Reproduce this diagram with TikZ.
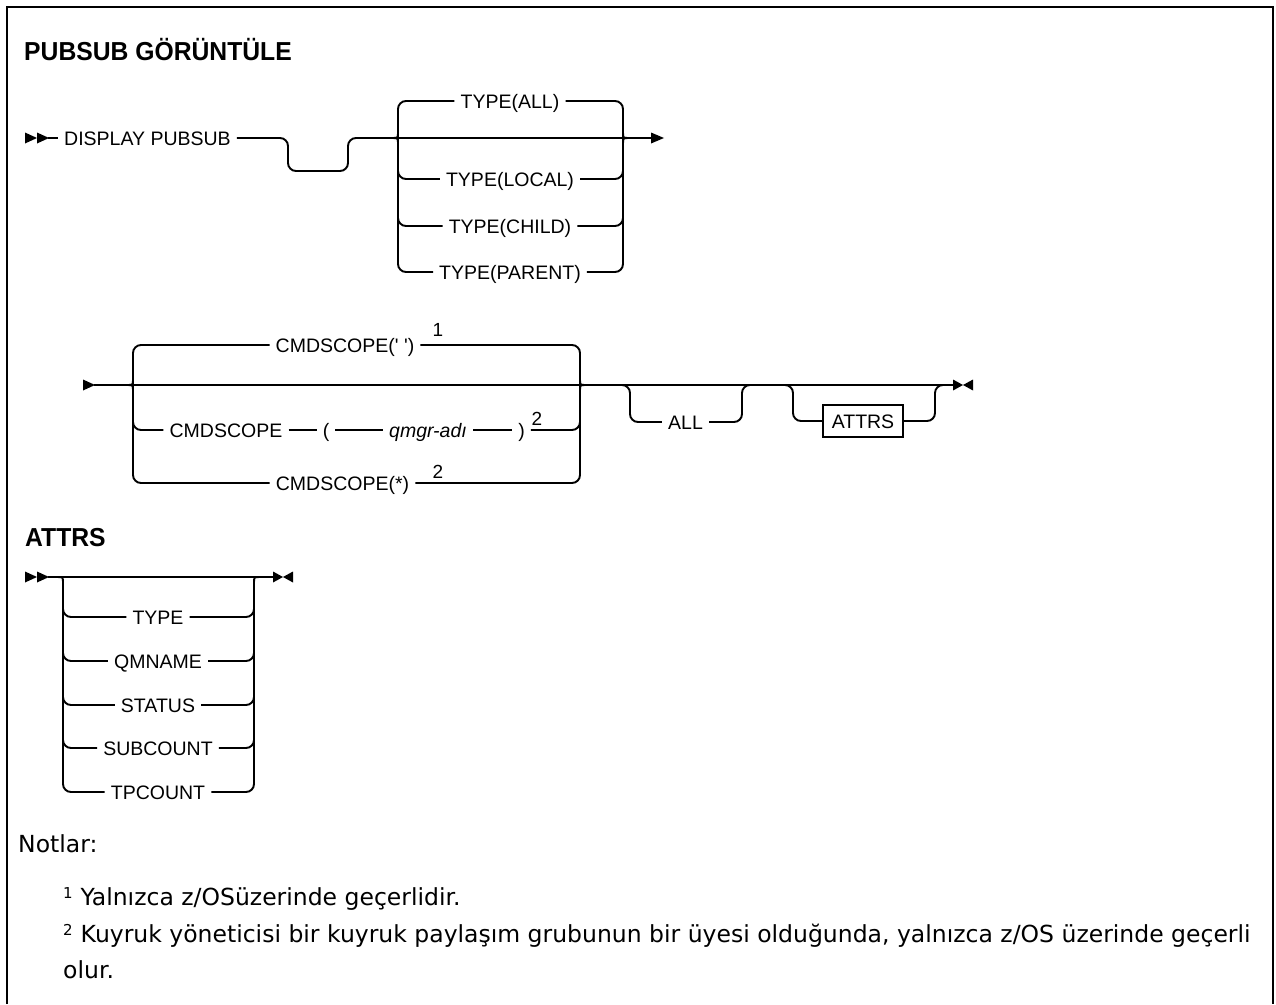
\documentclass[tikz,border=0pt]{standalone}
\usepackage{fontspec}
\usepackage{graphicx}
\setmainfont{Liberation Sans}
\newfontfamily\notefam{DejaVu Sans}
\newcommand\lblf{\fontsize{19.5}{23}\selectfont}
\newcommand\supf{\fontsize{19}{22}\selectfont}
\newcommand\headf{\fontsize{26}{30}\selectfont\bfseries}
\newcommand\notef{\notefam\fontsize{23.5}{30}\selectfont}
\newcommand\notesupf{\notefam\fontsize{15}{18}\selectfont}
\begin{document}
\begin{tikzpicture}[x=1pt,y=-1pt,
  track/.style={line width=1.9pt},
  rc/.style={track, rounded corners=8pt},
  lbl/.style={font=\lblf, inner xsep=6pt, inner ysep=0pt, text height=14pt, text depth=0pt, anchor=center},
  boxlbl/.style={lbl, draw, line width=1.9pt, inner xsep=9pt, inner ysep=9pt},
  supn/.style={font=\supf, inner sep=0pt, anchor=base},
  head/.style={font=\headf, inner sep=0pt, anchor=base west},
  note/.style={font=\notef, inner sep=0pt, anchor=base west},
  tipfill/.style={fill=black}
]
\useasboundingbox (0,0) rectangle (1276,1004);
\fill[white] (0,0) rectangle (1276,1004);
% frame
\draw[line width=2.5pt] (7,1004) -- (7,7) -- (1273,7) -- (1273,1004);

% headings
\node[head] (title) at (24,60) {\scalebox{0.95}[1]{PUBSUB GÖRÜNTÜLE}};
\node[head] (hattrs) at (25,546) {\scalebox{0.95}[1]{ATTRS}};

% ---------------- Row 1 ----------------
\fill[tipfill] (25,132.5) -- (37,138) -- (25,143.5) -- cycle;
\fill[tipfill] (37,132.5) -- (49,138) -- (37,143.5) -- cycle;
\coordinate (st1) at (48,138);
\node[lbl] (disp) at (147.5,138) {DISPLAY PUBSUB};
\draw[track] (st1) -- (disp.west);
\coordinate (tyL) at (392,138);
\coordinate (tyR) at (629,138);
\draw[rc] (disp.east) -- (288,138) -- (288,171) -- (348,171) -- (348,138) -- (tyL);

\node[lbl] (tall) at (510,101) {TYPE(ALL)};
\node[lbl] (tloc) at (510,179) {TYPE(LOCAL)};
\node[lbl] (tchi) at (510,226) {TYPE(CHILD)};
\node[lbl] (tpar) at (510,272) {TYPE(PARENT)};
\draw[track] (tyL) -- (tyR);
\draw[track] (tyL) .. controls (398,138) .. (398,132);
\draw[track] (tyL) .. controls (398,138) .. (398,144);
\draw[track] (623,132) .. controls (623,138) .. (tyR);
\draw[track] (623,144) .. controls (623,138) .. (tyR);
\draw[rc] (tall.west) -- (398,101) -- (398,272) -- (tpar.west);
\draw[rc] (tall.east) -- (623,101) -- (623,272) -- (tpar.east);
\draw[rc] (398,160) -- (398,179) -- (tloc.west);
\draw[rc] (398,208) -- (398,226) -- (tchi.west);
\draw[rc] (tloc.east) -- (623,179) -- (623,160);
\draw[rc] (tchi.east) -- (623,226) -- (623,208);
\coordinate (arr1) at (652,138);
\draw[track] (tyR) -- (arr1);
\fill[tipfill] (651,132.5) -- (664,138) -- (651,143.5) -- cycle;

% ---------------- Row 2 ----------------
\fill[tipfill] (83,379.5) -- (95,385) -- (83,390.5) -- cycle;
\coordinate (st2) at (94,385);
\coordinate (cmL) at (127,385);
\coordinate (cmR) at (586,385);
\draw[track] (st2) -- (cmL) -- (cmR);
\draw[track] (cmL) .. controls (133,385) .. (133,379);
\draw[track] (cmL) .. controls (133,385) .. (133,391);
\draw[track] (580,379) .. controls (580,385) .. (cmR);
\draw[track] (580,391) .. controls (580,385) .. (cmR);

\node[lbl] (c1) at (345,345) {CMDSCOPE(\textquotesingle\ \textquotesingle)};
\node[supn] (c1s) at (438,336) {1};
\node[lbl] (c2a) at (226,430) {CMDSCOPE};
\node[lbl] (c2l) at (326,430) {(};
\node[lbl, font=\lblf\itshape] (c2q) at (428,430) {qmgr-adı};
\node[lbl] (c2r) at (521.5,430) {)};
\node[supn] (c2s) at (537,425) {2};
\node[lbl] (c3) at (342.5,483) {CMDSCOPE(*)};
\node[supn] (c3s) at (438,478) {2};

\draw[rc] (c1.west) -- (133,345) -- (133,483) -- (c3.west);
\draw[rc] (c1.east) -- (580,345) -- (580,483) -- (c3.east);
\draw[rc] (133,412) -- (133,430) -- (c2a.west);
\draw[track] (c2a.east) -- (c2l.west);
\draw[track] (c2l.east) -- (c2q.west);
\draw[track] (c2q.east) -- (c2r.west);
\draw[rc] (c2r.east) -- (580,430) -- (580,412);

\coordinate (end2) at (953,385);
\draw[track] (cmR) -- (end2);
\node[lbl] (all) at (685.5,422) {ALL};
\draw[rc] (622,385) -- (630,385) -- (630,422) -- (all.west);
\draw[rc] (all.east) -- (742,422) -- (742,385) -- (752,385);
\node[boxlbl] (attrs) at (863,421) {ATTRS};
\draw[rc] (783,385) -- (793,385) -- (793,421) -- (attrs.west);
\draw[rc] (attrs.east) -- (935,421) -- (935,385) -- (945,385);
\fill[tipfill] (953,379.5) -- (963,385) -- (953,390.5) -- cycle;
\fill[tipfill] (973,379.5) -- (963,385) -- (973,390.5) -- cycle;

% ---------------- ATTRS fragment ----------------
\fill[tipfill] (25,571.5) -- (37,577) -- (25,582.5) -- cycle;
\fill[tipfill] (37,571.5) -- (49,577) -- (37,582.5) -- cycle;
\coordinate (st3) at (48,577);
\coordinate (aL) at (57,577);
\coordinate (aR) at (260,577);
\coordinate (end3) at (273,577);
\draw[track] (st3) -- (end3);
\draw[track] (aL) .. controls (63,577) .. (63,583);
\draw[track] (254,583) .. controls (254,577) .. (aR);

\node[lbl] (a1) at (158,617) {TYPE};
\node[lbl] (a2) at (158,661) {QMNAME};
\node[lbl] (a3) at (158,705) {STATUS};
\node[lbl] (a4) at (158,748) {SUBCOUNT};
\node[lbl] (a5) at (158,792) {TPCOUNT};
\draw[rc] (63,583) -- (63,792) -- (a5.west);
\draw[rc] (254,583) -- (254,792) -- (a5.east);
\foreach \n/\yy in {a1/617,a2/661,a3/705,a4/748}{
  \draw[rc] (63,\yy-18) -- (63,\yy) -- (\n.west);
  \draw[rc] (\n.east) -- (254,\yy) -- (254,\yy-18);
}
\fill[tipfill] (273,571.5) -- (283,577) -- (273,582.5) -- cycle;
\fill[tipfill] (293,571.5) -- (283,577) -- (293,582.5) -- cycle;

% ---------------- Notes ----------------
\node[note] (notlar) at (18,852) {Notlar:};
\node[note] (nt1) at (63,905) {\raisebox{7pt}{\notesupf 1}\hspace{8pt}Yalnızca z/OSüzerinde geçerlidir.};
\node[note] (nt2) at (63,942) {\raisebox{7pt}{\notesupf 2}\hspace{8pt}Kuyruk yöneticisi bir kuyruk paylaşım grubunun bir üyesi olduğunda, yalnızca z/OS üzerinde geçerli};
\node[note] (nt3) at (63,978) {olur.};
\end{tikzpicture}
\end{document}
